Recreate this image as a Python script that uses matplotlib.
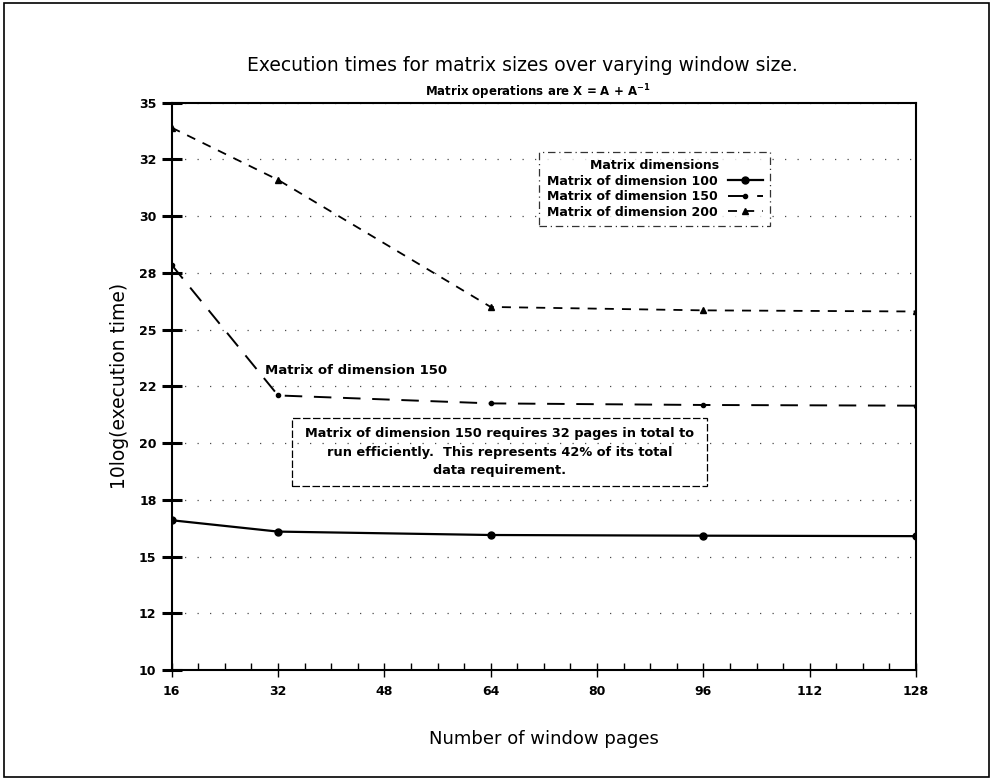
import matplotlib
matplotlib.use('Agg')
import matplotlib.pyplot as plt
from matplotlib.patches import Rectangle
from matplotlib.ticker import MultipleLocator

# window pages vs 10log(execution time)
pages = [16, 32, 64, 96, 128]
dim100 = [16.6, 16.1, 15.95, 15.92, 15.9]
dim150 = [27.85, 22.1, 21.75, 21.68, 21.65]
dim200 = [33.9, 31.6, 26.0, 25.85, 25.8]
series_labels = ['Matrix of dimension 100', 'Matrix of dimension 150', 'Matrix of dimension 200']

xticks = [16, 32, 48, 64, 80, 96, 112, 128]
yticks = [10, 12.5, 15, 17.5, 20, 22.5, 25, 27.5, 30, 32.5, 35]
ytick_labels = ['10', '12', '15', '18', '20', '22', '25', '28', '30', '32', '35']

note = ('Matrix of dimension 150 requires 32 pages in total to\n'
        'run efficiently.  This represents 42% of its total\n'
        'data requirement.')

plt.rcParams['font.family'] = ['DejaVu Sans']

fig = plt.figure(figsize=(9.95, 7.8), dpi=100)
ax = fig.add_axes([0.1726, 0.141, 0.748, 0.7273])

ax.plot(pages, dim100, color='k', lw=1.6, marker='o', ms=5, label=series_labels[0])
ax.plot(pages, dim150, color='k', lw=1.4, ls=(0, (9, 6)), marker='.', ms=6, label=series_labels[1])
ax.plot(pages, dim200, color='k', lw=1.3, ls=(0, (5, 4.5)), marker='^', ms=4, label=series_labels[2])

ax.set_xlim(16, 128)
ax.set_ylim(10, 35)
ax.set_xticks(xticks)
ax.xaxis.set_minor_locator(MultipleLocator(4))
ax.set_yticks(yticks)
ax.set_yticklabels(ytick_labels)
ax.tick_params(axis='y', which='major', direction='inout', length=14, width=2.2, labelsize=9, pad=4)
ax.tick_params(axis='x', which='major', direction='inout', length=10, width=1.0, labelsize=9, pad=6)
ax.tick_params(axis='x', which='minor', direction='in', length=5, width=1.0)
for lab in ax.get_xticklabels() + ax.get_yticklabels():
    lab.set_fontweight('bold')
for sp in ax.spines.values():
    sp.set_linewidth(1.5)

ax.yaxis.grid(True, ls=(0, (1, 9)), color='k', lw=0.9, alpha=0.7)

ax.set_xlabel('Number of window pages', fontsize=13)
ax.xaxis.set_label_coords(0.5, -0.105)
ax.set_ylabel('10log(execution time)', fontsize=13.5)
ax.yaxis.set_label_coords(-0.058, 0.5)

fig.text(0.525, 0.916, 'Execution times for matrix sizes over varying window size.',
         ha='center', va='center', fontsize=13.5)
fig.text(0.54, 0.882, r'Matrix operations are X = A + A$^{\mathbf{-1}}$',
         ha='center', va='center', fontsize=8.5, fontweight='bold')

leg = ax.legend(loc='upper left', bbox_to_anchor=(0.4854, 0.925), markerfirst=False,
                title='Matrix dimensions', fontsize=9, handlelength=2.8,
                labelspacing=0.2, borderpad=0.6, fancybox=False, frameon=True)
leg.get_title().set_fontweight('bold')
leg.get_title().set_fontsize(9)
for t in leg.get_texts():
    t.set_fontweight('bold')
leg.get_frame().set_edgecolor('k')
leg.get_frame().set_linestyle((0, (6, 3, 1, 3)))
leg.get_frame().set_linewidth(0.9)

ax.text(30.0, 23.2, 'Matrix of dimension 150', fontsize=9.5, fontweight='bold', va='center')

ax.add_patch(Rectangle((34.06, 18.12), 62.5, 2.98, fill=False, ec='k', lw=0.9,
                       ls=(0, (6, 2))))
ax.text(65.3, 19.6, note, fontsize=9.3, fontweight='bold', ha='center', va='center',
        multialignment='center', linespacing=1.55)

fig.add_artist(Rectangle((0.004, 0.004), 0.99, 0.992, transform=fig.transFigure,
                         fill=False, ec='k', lw=1.2))

fig.savefig('out.png', dpi=100)
